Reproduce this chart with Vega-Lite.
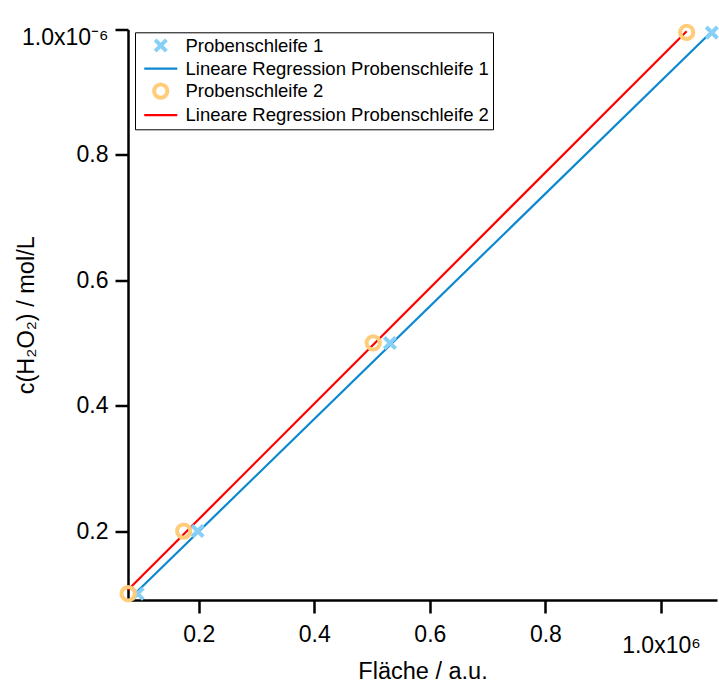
{
  "$schema": "https://vega.github.io/schema/vega-lite/v6.json",
  "autosize": "none",
  "padding": {"left": 128, "top": 29.5, "right": 2, "bottom": 83},
  "width": 589,
  "height": 570.5,
  "background": "white",
  "config": {
    "view": {"stroke": null},
    "font": "Liberation Sans",
    "axis": {"grid": false, "domainColor": "black", "domainWidth": 2.5, "tickColor": "black", "tickWidth": 2.5, "tickSize": 13, "labelColor": "black", "labelFontSize": 23, "labelFont": "Liberation Sans", "titleFont": "Liberation Sans", "titleFontSize": 23.5, "titleFontWeight": "normal", "titleColor": "black", "labelFlush": false, "labelOverlap": false, "labelBound": false}
  },
  "datasets": {
    "pts": [
      {"area": 94400, "conc": 1.0e-7, "series": "Probenschleife 1"},
      {"area": 198000, "conc": 2.0e-7, "series": "Probenschleife 1"},
      {"area": 531000, "conc": 5.0e-7, "series": "Probenschleife 1"},
      {"area": 1088000, "conc": 9.95e-7, "series": "Probenschleife 1"},
      {"area": 77900, "conc": 1.0e-7, "series": "Probenschleife 2"},
      {"area": 174000, "conc": 2.0e-7, "series": "Probenschleife 2"},
      {"area": 502000, "conc": 5.0e-7, "series": "Probenschleife 2"},
      {"area": 1044500, "conc": 9.955e-7, "series": "Probenschleife 2"}
    ],
    "fits": [
      {"area": 94400, "conc": 1.043e-7, "series": "Lineare Regression Probenschleife 1"},
      {"area": 1088000, "conc": 9.968e-7, "series": "Lineare Regression Probenschleife 1"},
      {"area": 77900, "conc": 1.062e-7, "series": "Lineare Regression Probenschleife 2"},
      {"area": 1044500, "conc": 9.973e-7, "series": "Lineare Regression Probenschleife 2"}
    ]
  },
  "encoding": {
    "x": {"field": "area", "type": "quantitative",
      "scale": {"domain": [77600, 1097000], "zero": false, "nice": false},
      "axis": {"title": "Fläche / a.u.", "values": [200000, 400000, 600000, 800000, 1000000],
        "labelExpr": "datum.value >= 999999 ? ['', '1.0x10⁶'] : format(datum.value / 1000000, '.1f')",
        "labelLineHeight": 11,
        "labelPadding": 10,
        "titleBaseline": "alphabetic", "titleY": 78}},
    "y": {"field": "conc", "type": "quantitative",
      "scale": {"domain": [9.0e-8, 1.0e-6], "zero": false, "nice": false},
      "axis": {"title": "c(H₂O₂) / mol/L", "values": [2e-7, 4e-7, 6e-7, 8e-7, 1e-6],
        "labelExpr": "datum.value >= 9.99e-7 ? ['', '1.0x10⁻⁶'] : format(datum.value * 1000000, '.1f')",
        "labelLineHeight": 8,
        "labelPadding": 7,
        "titleBaseline": "alphabetic", "titleX": -94.7}},
    "color": {"field": "series", "type": "nominal",
      "scale": {"domain": ["Probenschleife 1", "Lineare Regression Probenschleife 1", "Probenschleife 2", "Lineare Regression Probenschleife 2"],
        "range": ["#86d0f7", "#0c88d0", "#ffcc7a", "#ff0000"]},
      "legend": {"title": null, "orient": "none", "legendX": 7, "legendY": 2.8,
        "strokeColor": "black", "fillColor": "white", "padding": 4,
        "labelFontSize": 18.5, "labelFont": "Liberation Sans", "labelColor": "black", "labelLimit": 500,
        "rowPadding": -2.5, "labelOffset": 15.5, "symbolOffset": 12.5, "symbolSize": 196}},
    "strokeWidth": {"field": "series", "type": "nominal",
      "scale": {"type": "ordinal", "domain": ["Probenschleife 1", "Lineare Regression Probenschleife 1", "Probenschleife 2", "Lineare Regression Probenschleife 2"],
        "range": [4, 2.2, 4, 2.2]},
      "legend": {"title": null}}
  },
  "layer": [
    {"data": {"name": "fits"}, "mark": {"type": "line"}, "encoding": {"detail": {"field": "series"}}},
    {"data": {"name": "pts"}, "mark": {"type": "point", "filled": false, "opacity": 1, "size": 196},
      "encoding": {
        "shape": {"field": "series", "type": "nominal",
          "scale": {"domain": ["Probenschleife 1", "Lineare Regression Probenschleife 1", "Probenschleife 2", "Lineare Regression Probenschleife 2"],
            "range": ["M-0.8,-0.8L0.8,0.8M0.8,-0.8L-0.8,0.8", "M-2.36,0L2.36,0", "M-0.95,0A0.95,0.95,0,1,1,0.95,0A0.95,0.95,0,1,1,-0.95,0Z", "M-2.36,0L2.36,0"]},
          "legend": {"title": null}}}}
  ]
}
